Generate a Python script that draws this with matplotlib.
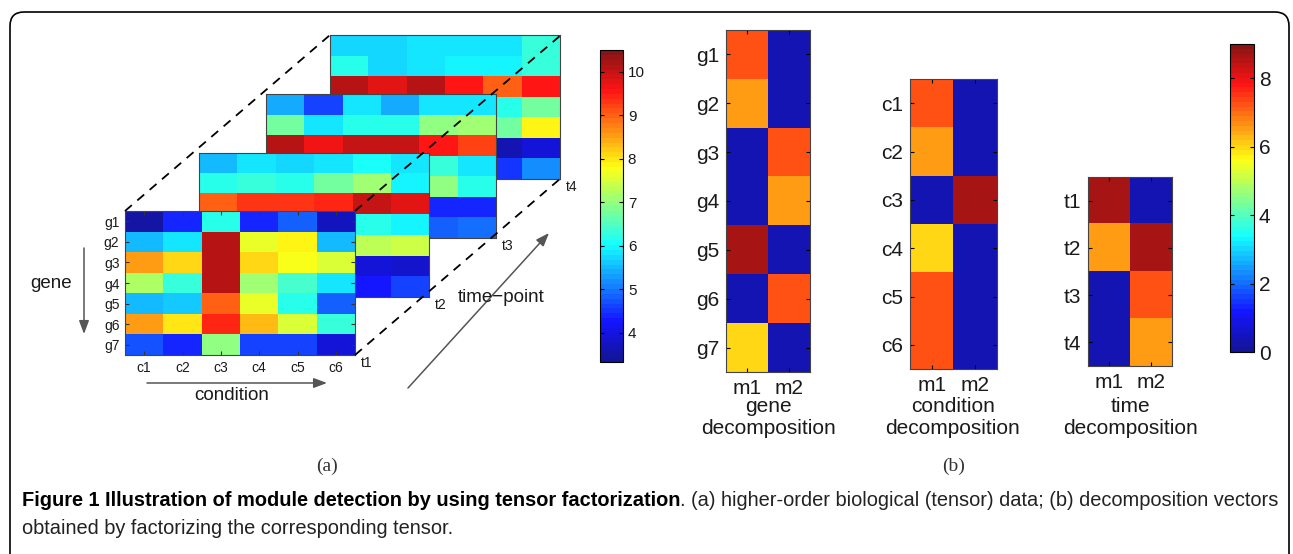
import numpy as np
import matplotlib
matplotlib.use('Agg')
import matplotlib.pyplot as plt
from matplotlib.patches import FancyBboxPatch
from matplotlib.colors import Normalize, LinearSegmentedColormap, ListedColormap
from matplotlib.cm import ScalarMappable
from matplotlib import font_manager

W, H = 1293, 554

genes = ['g1', 'g2', 'g3', 'g4', 'g5', 'g6', 'g7']
conds = ['c1', 'c2', 'c3', 'c4', 'c5', 'c6']
times = ['t1', 't2', 't3', 't4']
modules = ['m1', 'm2']

# tensor slices, rows = genes, cols = conditions (front t1 ... back t4)
t1 = [[3.5, 4.4, 6.2, 4.4, 4.8, 3.7],
      [5.5, 5.9, 10.1, 7.6, 7.9, 5.5],
      [8.5, 8.1, 10.1, 8.1, 7.8, 7.5],
      [7.2, 6.3, 10.1, 7.1, 6.4, 5.8],
      [5.5, 5.6, 9.0, 7.6, 6.2, 4.8],
      [8.5, 8.0, 9.4, 8.3, 7.5, 6.3],
      [4.7, 4.4, 7.0, 4.6, 4.6, 4.0]]
t2 = [[5.5, 5.9, 5.7, 5.9, 6.1, 5.9],
      [6.2, 6.3, 6.2, 6.8, 7.1, 6.0],
      [9.0, 9.3, 9.3, 9.4, 10.0, 9.8],
      [5.6, 6.0, 5.4, 5.8, 6.2, 6.0],
      [6.8, 7.1, 6.4, 7.0, 7.3, 7.4],
      [4.2, 4.0, 4.5, 4.1, 4.0, 3.8],
      [4.5, 4.7, 4.3, 4.4, 4.3, 4.6]]
t3 = [[5.4, 4.6, 5.8, 5.4, 5.9, 5.9],
      [6.8, 5.9, 6.2, 6.2, 7.0, 7.1],
      [10.1, 9.7, 10.0, 10.0, 9.6, 9.2],
      [5.9, 6.1, 5.7, 6.0, 6.3, 5.9],
      [6.5, 6.9, 6.7, 7.1, 7.0, 6.2],
      [4.3, 4.5, 4.2, 4.6, 4.4, 4.4],
      [4.9, 4.6, 5.1, 4.7, 4.8, 5.0]]
t4 = [[5.7, 5.7, 5.9, 5.9, 5.9, 6.3],
      [6.2, 5.7, 5.9, 6.0, 6.0, 6.3],
      [10.1, 9.8, 10.1, 9.5, 9.0, 9.5],
      [6.0, 5.8, 6.1, 6.0, 6.2, 6.8],
      [6.6, 6.9, 7.2, 6.8, 6.7, 7.9],
      [3.8, 3.9, 3.7, 3.8, 3.6, 3.9],
      [4.6, 4.8, 4.5, 4.7, 4.5, 5.2]]
slices = [t1, t2, t3, t4]

# decomposition vectors
gene_m1 = [7.3, 6.6, 0.3, 0.3, 8.6, 0.3, 6.0]
gene_m2 = [0.3, 0.3, 7.3, 6.6, 0.3, 7.3, 0.3]
cond_m1 = [7.3, 6.6, 0.3, 6.0, 7.3, 7.3]
cond_m2 = [0.3, 0.3, 8.6, 0.3, 0.3, 0.3]
time_m1 = [8.6, 6.6, 0.3, 0.3]
time_m2 = [0.3, 8.6, 7.3, 6.6]

a_ticks = [4, 5, 6, 7, 8, 9, 10]
b_ticks = [0, 2, 4, 6, 8]

plt.rcParams['font.family'] = ['Liberation Sans', 'DejaVu Sans']
# matlab style jet, 64 levels, lifted a little like the printed figure
mjet = LinearSegmentedColormap('mjet', {
    'red':   [(0, 0, 0), (3 / 8, 0, 0), (5 / 8, 1, 1), (7 / 8, 1, 1), (1, 0.5, 0.5)],
    'green': [(0, 0, 0), (1 / 8, 0, 0), (3 / 8, 1, 1), (5 / 8, 1, 1), (7 / 8, 0, 0), (1, 0, 0)],
    'blue':  [(0, 0.5625, 0.5625), (1 / 8, 1, 1), (3 / 8, 1, 1), (5 / 8, 0, 0), (1, 0, 0)],
}, N=64)
cols = mjet(np.linspace(0, 1, 64))[:, :3]
cols = 0.92 * cols + 0.08
jet = ListedColormap(np.clip(cols, 0, 1))
TXT = '#1a1a1a'

fig = plt.figure(figsize=(W / 100, H / 100), dpi=100)


def px_axes(x0, y0, w, h):
    return fig.add_axes([x0 / W, 1 - (y0 + h) / H, w / W, h / H])


def heat(ax, data, vmin, vmax):
    ax.imshow(np.array(data), cmap=jet, vmin=vmin, vmax=vmax,
              aspect='auto', interpolation='nearest')
    for s in ax.spines.values():
        s.set_color('#444444')
        s.set_linewidth(0.8)


# ---- panel (a): stacked slices, back to front
layer_pos = [(125, 211), (199, 153), (266, 94), (330, 35)]
for i in [3, 2, 1, 0]:
    x0, y0 = layer_pos[i]
    ax = px_axes(x0, y0, 230, 144)
    heat(ax, slices[i], 3.33, 10.5)
    if i == 0:
        ax.set_xticks(range(len(conds)))
        ax.set_xticklabels(conds)
        ax.set_yticks(range(len(genes)))
        ax.set_yticklabels(genes)
        ax.tick_params(direction='in', length=3, top=True, right=True,
                       labelsize=10, pad=4, colors='#333333', labelcolor=TXT)
    else:
        ax.set_xticks([])
        ax.set_yticks([])

cax = px_axes(600, 50, 23, 312)
cb = fig.colorbar(ScalarMappable(Normalize(3.33, 10.5), jet), cax=cax)
cb.set_ticks(a_ticks)
cb.outline.set_linewidth(0.8)
cax.tick_params(direction='in', length=3, left=True, right=True,
                labelsize=11, labelcolor=TXT)

# ---- panel (b): decomposition vectors
def decomp(x0, y0, w, h, m1, m2, labels):
    ax = px_axes(x0, y0, w, h)
    heat(ax, np.column_stack([m1, m2]), 0, 9)
    ax.set_xticks([0, 1])
    ax.set_xticklabels(modules)
    ax.set_yticks(range(len(labels)))
    ax.set_yticklabels(labels)
    ax.tick_params(direction='in', length=3, top=True, right=True,
                   labelsize=15, pad=5, labelcolor=TXT)
    return ax

decomp(726, 30, 84, 342, gene_m1, gene_m2, genes)
decomp(910, 79, 87, 290, cond_m1, cond_m2, conds)
decomp(1088, 177, 84, 189, time_m1, time_m2, times)

cbx = px_axes(1230, 44, 24, 308)
cb2 = fig.colorbar(ScalarMappable(Normalize(0, 9), jet), cax=cbx)
cb2.set_ticks(b_ticks)
cb2.outline.set_linewidth(0.8)
cbx.tick_params(direction='in', length=3, left=True, right=True,
                labelsize=15, labelcolor=TXT)

# ---- overlay in pixel coordinates
ov = fig.add_axes([0, 0, 1, 1])
ov.set_xlim(0, W)
ov.set_ylim(H, 0)
ov.axis('off')
ov.patch.set_alpha(0)

ov.add_patch(FancyBboxPatch((10, 12), 1279, 560,
                            boxstyle='round,pad=0,rounding_size=14',
                            fill=False, ec='black', lw=1.2, clip_on=False))

dash = dict(color='black', lw=1.3, ls=(0, (5, 4)))
ov.plot([125, 330], [211, 35], **dash)
ov.plot([355, 561], [211, 35], **dash)
ov.plot([355, 561], [355, 178], **dash)

for i, t in enumerate(times):
    x0, y0 = layer_pos[i]
    ov.text(x0 + 236, y0 + 152, t, fontsize=10, color=TXT, va='center')

arrow = dict(arrowstyle='-|>,head_length=0.8,head_width=0.3',
             color='#555555', lw=1.1, shrinkA=0, shrinkB=0)
ov.annotate('', xy=(84, 334), xytext=(84, 248), arrowprops=arrow)
ov.annotate('', xy=(327, 383), xytext=(147, 383), arrowprops=arrow)
ov.annotate('', xy=(549, 233), xytext=(408, 388), arrowprops=arrow)

ov.text(51, 284, 'gene', fontsize=13.5, color=TXT, ha='center', va='center')
ov.text(232, 396, 'condition', fontsize=13.5, color=TXT, ha='center', va='center')
ov.text(501, 297, 'time\u2212point', fontsize=13.5, color=TXT, ha='center', va='center')

for cx, word in [(768, 'gene'), (953, 'condition'), (1130, 'time')]:
    ov.text(cx, 406, word, fontsize=15, color=TXT, ha='center', va='center')
    ov.text(cx, 428, 'decomposition', fontsize=15, color=TXT, ha='center', va='center')

ov.text(327, 466, '(a)', fontsize=14, family='Liberation Serif', color='#333333',
        ha='center', va='center')
ov.text(954, 466, '(b)', fontsize=14, family='Liberation Serif', color='#333333',
        ha='center', va='center')

# ---- caption, fitted to the width of the box
names = {f.name for f in font_manager.fontManager.ttflist}
cap_font = 'Liberation Sans Narrow' if 'Liberation Sans Narrow' in names else 'Liberation Sans'
bold = 'Figure 1 Illustration of module detection by using tensor factorization'
rest = '. (a) higher-order biological (tensor) data; (b) decomposition vectors'
line2 = 'obtained by factorizing the corresponding tensor.'

r = fig.canvas.get_renderer()
tb = ov.text(22, 500, bold, fontsize=12, weight='bold', family=cap_font,
             color='black', va='center')
tr = ov.text(22, 500, rest, fontsize=12, family=cap_font, color='#222222', va='center')
wb = tb.get_window_extent(r).width
wr = tr.get_window_extent(r).width
fs = 12 * (1280 - 22) / (wb + wr)
tb.set_fontsize(fs)
tr.set_fontsize(fs)
tr.set_x(22 + tb.get_window_extent(r).width)
ov.text(22, 528, line2, fontsize=fs, family=cap_font, color='#222222', va='center')

fig.savefig('out.png', dpi=100)
